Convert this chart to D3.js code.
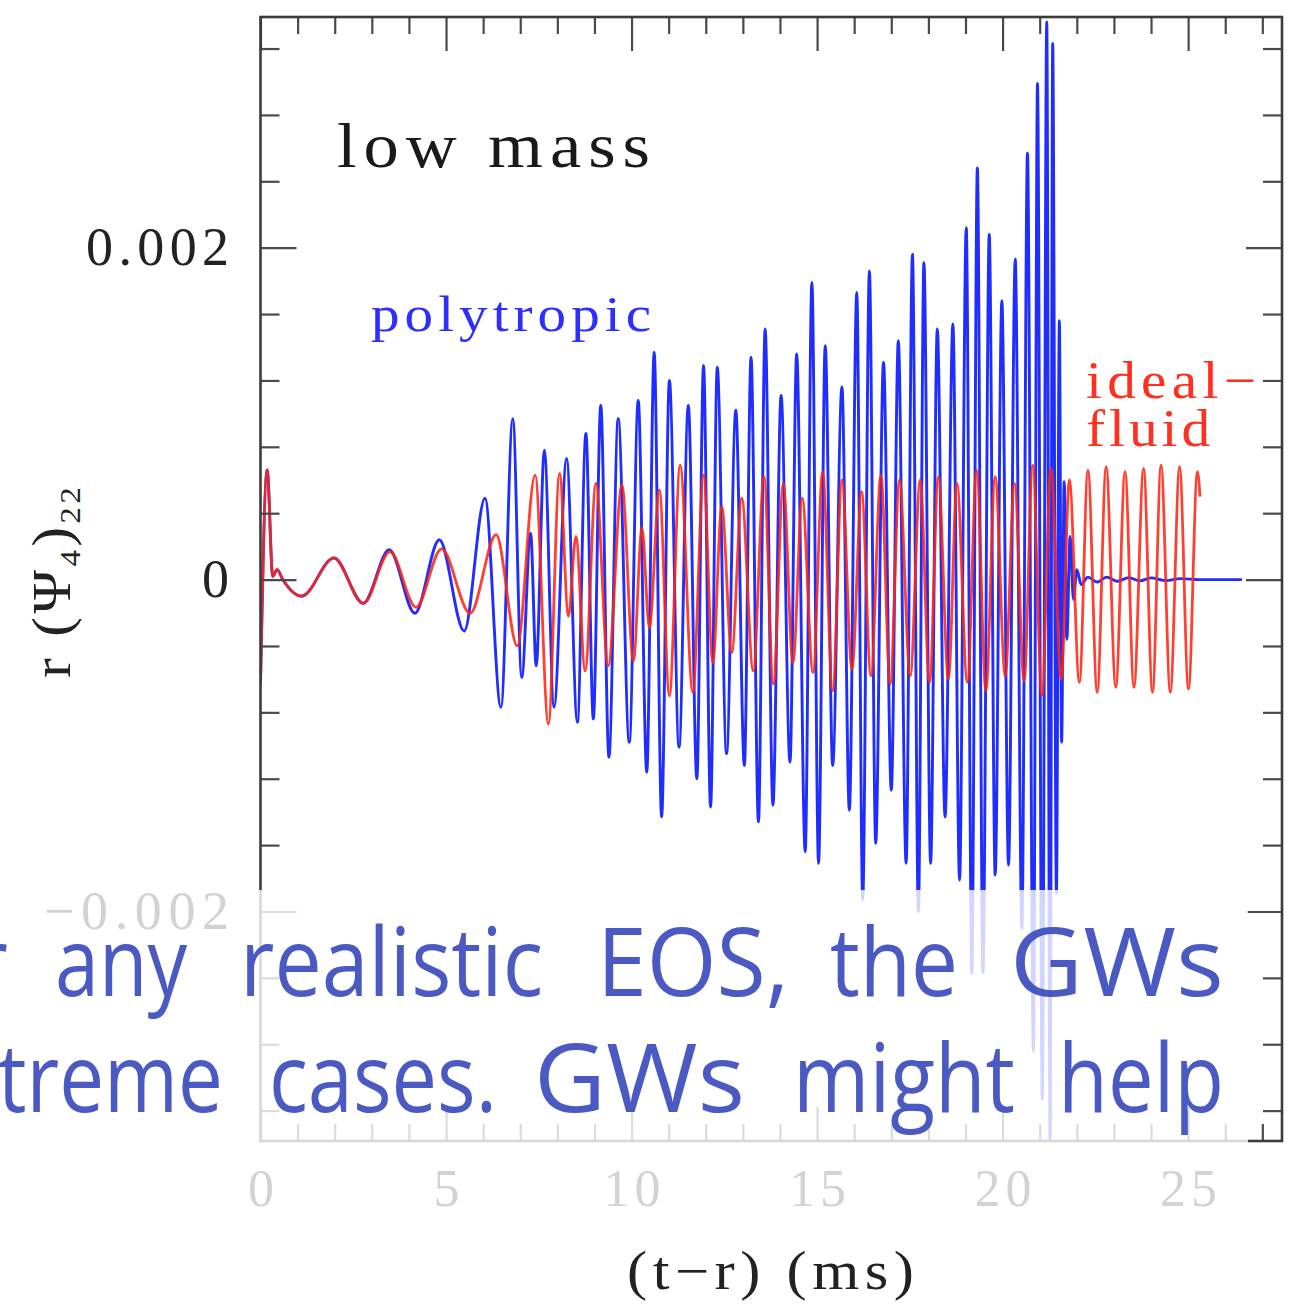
<!DOCTYPE html>
<html><head><meta charset="utf-8">
<script src="https://cdn.jsdelivr.net/npm/d3@7"></script>
<style>body{margin:0;background:#fff}svg{display:block}</style>
</head><body>
<svg id="chart" width="1296" height="1304"></svg>
<script>
// ---- data ----
const polyT = [0,0.18,0.33,0.45,0.6,1.11,1.98,2.77,3.47,4.16,4.82,5.49,6.05,6.48,6.80,7.04,7.28,7.43,7.65,7.91,8.25,8.54,8.77,8.97,9.17,9.39,9.64,9.94,10.18,10.41,10.61,10.81,11.02,11.28,11.53,11.76,11.94,12.13,12.31,12.56,12.81,13.04,13.22,13.42,13.60,13.81,14.03,14.27,14.45,14.68,14.86,15.04,15.22,15.42,15.67,15.87,16.07,16.23,16.41,16.58,16.79,17.0,17.19,17.4,17.57,17.73,17.88,18.06,18.24,18.45,18.66,18.84,19.02,19.17,19.32,19.47,19.64,19.8,19.98,20.16,20.34,20.52,20.67,20.83,20.94,21.07,21.19,21.28,21.35,21.45,21.53,21.59,21.66,21.73,21.82,21.91,22.0,22.12,22.3,22.55,22.8,23.1,23.4,23.7,24.0,24.4,24.8,25.3,26.45];
const polyV = [-0.00062,0.00066,0.00002,0.00006,0.0,-0.0001,0.00013,-0.000143,0.00018,-0.000203,0.00024,-0.00031,0.00049,-0.00077,0.00097,-0.00059,0.00028,-0.00052,0.00078,-0.00077,0.00073,-0.00086,0.00088,-0.00084,0.00105,-0.00107,0.00097,-0.00098,0.00108,-0.00116,0.00137,-0.00143,0.0012,-0.00101,0.00105,-0.0012,0.00129,-0.00137,0.00128,-0.00105,0.00102,-0.00112,0.00134,-0.00146,0.00151,-0.00136,0.00111,-0.0011,0.00136,-0.00164,0.00179,-0.00171,0.00141,-0.00112,0.00116,-0.00139,0.00173,-0.00193,0.00186,-0.00159,0.00131,-0.00127,0.00144,-0.00171,0.00196,-0.002,0.00191,-0.00171,0.00151,-0.00143,0.00154,-0.00181,0.00212,-0.00237,0.00248,-0.00237,0.00208,-0.00178,0.00168,-0.00172,0.00193,-0.0021,0.00257,-0.00284,0.00299,-0.00313,0.00336,-0.0034,0.00323,-0.00189,0.00156,-0.00098,0.00059,-0.00036,0.00026,-0.00012,0.00006,-0.00003,0.000015,-0.000015,0.000015,-0.00001,0.000012,-0.000008,0.00001,-0.000006,0.000006,0.0,0.0];

const idealT = [0,0.18,0.33,0.45,0.6,1.11,1.98,2.77,3.49,4.19,4.88,5.65,6.35,6.92,7.40,7.76,8.06,8.30,8.50,8.75,9.04,9.37,9.74,10.05,10.28,10.48,10.75,11.02,11.31,11.65,11.94,12.19,12.43,12.70,12.97,13.28,13.57,13.82,14.09,14.35,14.6,14.89,15.15,15.42,15.67,15.94,16.2,16.45,16.72,16.97,17.22,17.51,17.78,18.03,18.27,18.54,18.77,19.05,19.3,19.55,19.8,20.07,20.32,20.58,20.81,21.06,21.3,21.58,21.8,22.07,22.3,22.55,22.79,23.05,23.3,23.54,23.8,24.04,24.27,24.52,24.77,25.01,25.25,25.32];
const idealV = [-0.00063,0.00066,0.00002,0.00006,0.0,-0.0001,0.00013,-0.000143,0.000169,-0.000167,0.000185,-0.000203,0.00027,-0.0004,0.00063,-0.00087,0.00064,-0.00022,0.00026,-0.00055,0.00058,-0.00052,0.00057,-0.00049,0.00031,-0.00029,0.00054,-0.0007,0.00069,-0.00068,0.00063,-0.0005,0.00044,-0.00044,0.00049,-0.00055,0.00062,-0.00063,0.00058,-0.0005,0.00049,-0.00056,0.00065,-0.00067,0.0006,-0.00054,0.00053,-0.00058,0.00063,-0.00063,0.0006,-0.00058,0.0006,-0.00062,0.00062,-0.0006,0.00058,-0.00062,0.00066,-0.00067,0.00062,-0.00058,0.00058,-0.00061,0.00069,-0.0007,0.00067,-0.0006,0.0006,-0.00062,0.00066,-0.00068,0.00068,-0.00065,0.00065,-0.00065,0.00067,-0.00068,0.00069,-0.00068,0.00068,-0.00066,0.00065,0.0005];

const xTickLabels = [0, 5, 10, 15, 20, 25];
const yTickLabels = [-0.002, 0, 0.002];
const xMinorTicks = [1,2,3,4,6,7,8,9,11,12,13,14,16,17,18,19,21,22,23,24,26,27];
const yMinorTicks = [-0.0032,-0.0028,-0.0024,-0.0016,-0.0012,-0.0008,-0.0004,0.0004,0.0008,0.0012,0.0016,0.0024,0.0028,0.0032];
const overlayLine1 = ["r","any","realistic","EOS,","the","GWs"];
const overlayLine2 = ["treme","cases.","GWs","might","help"];

// ---- layout ----
const L = 260.5, R = 1282, T = 17, B = 1141;
const svg = d3.select('#chart');
const x = d3.scaleLinear().domain([0, 27.53]).range([L, R]);
const y = d3.scaleLinear().domain([-0.003383, 0.00339]).range([B, T]);

svg.append('defs').append('clipPath').attr('id','plotclip')
  .append('rect').attr('x',L).attr('y',T).attr('width',R-L).attr('height',B-T);

const line = d3.line().x(d=>x(d[0])).y(d=>y(d[1])).curve(d3.curveMonotoneX);
const poly = polyT.map((t,i)=>[t, polyV[i]]);
const ideal = idealT.map((t,i)=>[t, idealV[i]]);

const plot = svg.append('g').attr('clip-path','url(#plotclip)');
plot.append('path').datum(poly).attr('d', line)
  .attr('fill','none').attr('stroke','#1f2eff').attr('stroke-width',2.9).attr('stroke-linejoin','round');
plot.append('path').datum(ideal).attr('d', line)
  .attr('fill','none').attr('stroke','#ff2614').attr('stroke-opacity',0.88).attr('stroke-width',2.8).attr('stroke-linejoin','round');

// ---- axes (ticks inward on all sides) ----
const tickColor = '#4a4a4a';
function tickGroup(axis, transform){
  const g = svg.append('g').attr('transform', transform).call(axis);
  g.select('.domain').remove();
  g.selectAll('.tick line').attr('stroke', tickColor).attr('stroke-width', 2.2);
  return g;
}
const noLab = ()=>'';
tickGroup(d3.axisBottom(x).tickValues(xMinorTicks).tickSize(-17).tickFormat(noLab), `translate(0,${B})`);
tickGroup(d3.axisBottom(x).tickValues(xTickLabels).tickSize(-34).tickFormat(noLab), `translate(0,${B})`);
tickGroup(d3.axisTop(x).tickValues(xMinorTicks).tickSize(-17).tickFormat(noLab), `translate(0,${T})`);
tickGroup(d3.axisTop(x).tickValues(xTickLabels).tickSize(-34).tickFormat(noLab), `translate(0,${T})`);
tickGroup(d3.axisLeft(y).tickValues(yMinorTicks).tickSize(-19).tickFormat(noLab), `translate(${L},0)`);
tickGroup(d3.axisLeft(y).tickValues(yTickLabels).tickSize(-36).tickFormat(noLab), `translate(${L},0)`);
tickGroup(d3.axisRight(y).tickValues(yMinorTicks).tickSize(-19).tickFormat(noLab), `translate(${R},0)`);
tickGroup(d3.axisRight(y).tickValues(yTickLabels).tickSize(-36).tickFormat(noLab), `translate(${R},0)`);

svg.append('rect').attr('x',L).attr('y',T).attr('width',R-L).attr('height',B-T)
  .attr('fill','none').attr('stroke','#3c3c3c').attr('stroke-width',2.6);

const serif = "'Liberation Serif','Times New Roman',serif";
// tick labels
const xl = svg.append('g').attr('transform',`translate(0,${B})`)
  .call(d3.axisBottom(x).tickValues(xTickLabels).tickSize(0).tickPadding(28).tickFormat(d3.format('d')));
xl.select('.domain').remove();
xl.selectAll('text').attr('font-family',serif).attr('font-size',52).attr('fill','#222')
  .attr('textLength', d => d < 10 ? 27 : 57).attr('lengthAdjust','spacing');

const yl = svg.append('g').attr('transform',`translate(${L},0)`)
  .call(d3.axisLeft(y).tickValues(yTickLabels).tickSize(0).tickPadding(31.5)
    .tickFormat(d => d === 0 ? '0' : (d < 0 ? '\u2212' : '') + Math.abs(d).toFixed(3)));
yl.select('.domain').remove();
yl.selectAll('text').attr('font-family',serif).attr('font-size',54).attr('fill','#222')
  .attr('textLength', d => d === 0 ? 28 : (d > 0 ? 143 : 185)).attr('lengthAdjust','spacing');

// wide, lightly spaced serif label (horizontal stretch + spacing)
function label(px, py, str, size, width, color, sx){
  return svg.append('text').attr('transform',`translate(${px},${py}) scale(${sx},1)`)
    .attr('font-family',serif).attr('font-size',size).attr('fill',color)
    .attr('textLength', width/sx).attr('lengthAdjust','spacing').text(str);
}
label(627, 1289, '(t\u2212r) (ms)', 54, 287, '#222', 1.12);
label(337, 167, 'low mass', 63, 313, '#1a1a1a', 1.12);
label(371, 331, 'polytropic', 51, 280, '#2e2eff', 1.12);
label(1086, 398, 'ideal\u2212', 52, 170, '#ff3020', 1.1);
label(1086, 446, 'fluid', 52, 124, '#ff3020', 1.1);

const ylab = svg.append('text').attr('transform','translate(70,581) rotate(-90) scale(1.1,1)')
  .attr('text-anchor','middle').attr('font-family',serif).attr('font-size',54).attr('fill','#222')
  .attr('letter-spacing',3);
ylab.append('tspan').text('r (\u03A8');
ylab.append('tspan').attr('font-size',30).attr('dy',10).text('4');
ylab.append('tspan').attr('dy',-10).text(')');
ylab.append('tspan').attr('font-size',30).attr('dy',10).text('22');

// ---- slide overlay ----
svg.append('rect').attr('x',0).attr('y',890).attr('width',1248).attr('height',352)
  .attr('fill','#fff').attr('fill-opacity',0.8);

const sans = "'Open Sans','Lato','Noto Sans',sans-serif";
const line1Pos = [[-27,35],[55,132],[240,303],[597,192],[830,128],[1010,214]];
const line2Pos = [[-2,225],[269,228],[534,211],[793,222],[1058,166]];
function slideLine(words, pos, baseline){
  svg.append('g').selectAll('text').data(words).join('text')
    .attr('x',(d,i)=>pos[i][0]).attr('y',baseline)
    .attr('textLength',(d,i)=>pos[i][1]).attr('lengthAdjust','spacingAndGlyphs')
    .attr('font-family',sans).attr('font-size',95).attr('font-weight',500)
    .attr('fill','#4051bf').attr('fill-opacity',0.95)
    .text(d=>d);
}
slideLine(overlayLine1, line1Pos, 996);
slideLine(overlayLine2, line2Pos, 1112);
</script>
</body></html>
